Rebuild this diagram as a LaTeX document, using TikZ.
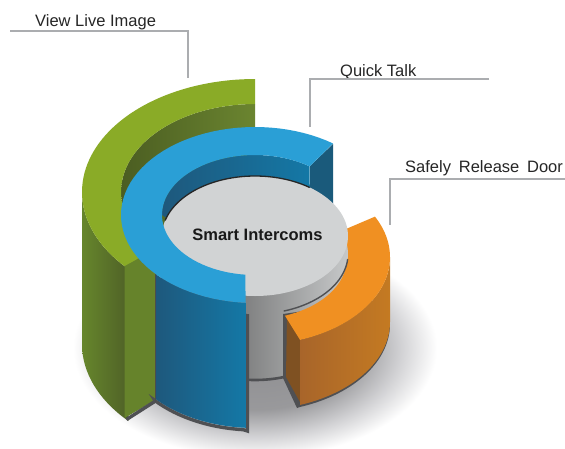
\documentclass[tikz,border=0pt]{standalone}
\usepackage{fontspec}
\setmainfont{Liberation Sans}
\newfontfamily\widesp[WordSpace=1.7]{Liberation Sans}
\definecolor{greentop}{HTML}{8AAB27}
\definecolor{greenface}{HTML}{66832B}
\definecolor{greenlight}{HTML}{66862C}
\definecolor{greendark}{HTML}{4F6127}
\definecolor{greeninner}{HTML}{6B8530}
\definecolor{bluetop}{HTML}{2A9FD6}
\definecolor{bluedark}{HTML}{1E587C}
\definecolor{bluemid}{HTML}{1478A6}
\definecolor{blueend}{HTML}{1A5A7B}
\definecolor{orangetop}{HTML}{F09022}
\definecolor{orangeL}{HTML}{A8652A}
\definecolor{orangeR}{HTML}{C47A22}
\definecolor{orangeface}{HTML}{7F5122}
\definecolor{disc}{HTML}{D1D3D4}
\definecolor{edgegrey}{HTML}{4F5053}
\definecolor{leadgrey}{HTML}{ABADB0}
\pgfdeclareradialshading{softshadow}{\pgfpoint{0bp}{0bp}}{rgb(0bp)=(.55,.55,.56);rgb(14bp)=(.6,.6,.61);rgb(20bp)=(.82,.82,.83);rgb(25bp)=(1,1,1);rgb(50bp)=(1,1,1)}
\tikzset{
  leader/.style={draw=leadgrey,line width=1.6pt},
  labeltext/.style={font=\fontsize{16.5}{18}\selectfont,text=black!85,inner sep=0pt,anchor=base west},
  edgeline/.style={draw=edgegrey,line width=3.4pt,line join=miter},
  arcs/.style={samples=60},
}
\begin{document}
\begin{tikzpicture}[x=1pt,y=-1pt]
\useasboundingbox (0,0) rectangle (565,448);
\fill[white] (0,0) rectangle (565,448);
% floor shadow
\shade[shading=softshadow] (255,348) ellipse [x radius=182pt,y radius=110pt];
% green segment
\shade[left color=greeninner!70!black,right color=greeninner]
  plot[arcs,domain=270:139] ({255+134*cos(\x)},{192+88*sin(\x)}) -- (255,215) -- cycle;
\shade[left color=greenlight,right color=greendark]
  plot[arcs,domain=180:137] ({255+173*cos(\x)},{192+113*sin(\x)}) -- plot[arcs,domain=137:180] ({255+173*cos(\x)},{344+113*sin(\x)}) -- cycle;
\fill[greenface] (124.5,265) -- (153,248) -- (157,248) -- (157,399) -- (124.5,418) -- cycle;
\fill[greentop] plot[arcs,domain=270:139] ({255+173*cos(\x)},{192+113*sin(\x)}) -- plot[arcs,domain=139:270] ({255+134*cos(\x)},{192+88*sin(\x)}) -- cycle;
% blue back walls
\shade[left color=bluedark,right color=bluemid]
  plot[arcs,domain=306:180] ({255+93*cos(\x)},{215+60*sin(\x)}) -- (200,240) -- (310,240) -- cycle;
\fill[blueend] (333,144) -- (310,166) -- (310,235) -- (333,235) -- cycle;
% grey cylinder
\shade[left color=black!72,right color=disc!95!black]
  plot[arcs,domain=0:180] ({255+93*cos(\x)},{236+60*sin(\x)}) -- plot[arcs,domain=180:0] ({255+93*cos(\x)},{320+60*sin(\x)}) -- cycle;
\draw[edgeline,line width=2.6pt] plot[arcs,domain=45:95] ({255+93*cos(\x)},{320+60*sin(\x)});
% dark base edge of the blue and green segments
\draw[edgeline] (126.5,419.5) -- (155.5,401) -- plot[arcs,domain=138:95] ({255+134*cos(\x)},{342+88*sin(\x)}) -- (247.5,431) -- (247.5,297);
% orange segment
\fill[edgegrey] (283,314) -- (283,378) -- (297,408) -- plot[arcs,domain=70.5:0] ({255+135*cos(\x)},{324+88*sin(\x)}) -- (380,300) -- cycle;
\fill[orangeface] (287,314) -- (300,340) -- (300,402) -- (286,377) -- cycle;
\shade[left color=orangeL,right color=orangeR]
  plot[arcs,domain=70.5:0] ({255+135*cos(\x)},{257+88*sin(\x)}) -- plot[arcs,domain=0:70.5] ({255+135*cos(\x)},{322+88*sin(\x)}) -- cycle;
\fill[orangetop] plot[arcs,domain=-27.3:70.5] ({255+135*cos(\x)},{257+88*sin(\x)}) -- plot[arcs,domain=71:-25] ({255+92*cos(\x)},{258+61*sin(\x)}) -- cycle;
% central disc
\shade[left color=black!72,right color=disc!95!black] (255,254) ellipse [x radius=93pt,y radius=60pt];
\draw[edgegrey,line width=1.4pt] plot[arcs,domain=5:72] ({255+93*cos(\x)},{254+60*sin(\x)});
\fill[disc] (255,236) ellipse [x radius=93pt,y radius=60pt];
\draw[black!85,line width=1.3pt] plot[arcs,domain=195:306] ({255+93*cos(\x)},{236+60*sin(\x)});
% blue front
\shade[left color=bluedark,right color=bluemid]
  plot[arcs,domain=138:94] ({255+134*cos(\x)},{215+88*sin(\x)}) -- plot[arcs,domain=94:138] ({255+134*cos(\x)},{340+88*sin(\x)}) -- cycle;
\draw[black!70,line width=1pt] (155.5,274) -- (155.5,402);
\fill[bluetop] plot[arcs,domain=305.6:94] ({255+134*cos(\x)},{215+88*sin(\x)}) -- plot[arcs,domain=96:306] ({255+93*cos(\x)},{215+60*sin(\x)}) -- cycle;
% labels
\node[labeltext] (live) at (35,26) {View Live Image};
\node[labeltext] (talk) at (340,76) {Quick Talk};
\node[labeltext,font=\fontsize{16.5}{18}\widesp] (door) at (405,172) {Safely Release Door};
\node[font=\fontsize{16.5}{18}\bfseries\selectfont,text=black!90,inner sep=0pt] (smart) at (257.5,235) {Smart Intercoms};
% leaders
\coordinate (liveA) at (10,31);
\coordinate (liveB) at (188,78);
\coordinate (talkA) at (489,79);
\coordinate (talkB) at (310,127);
\coordinate (doorA) at (565,179);
\coordinate (doorB) at (390,225);
\draw[leader] (liveA) -| (liveB);
\draw[leader] (talkA) -| (talkB);
\draw[leader] (doorA) -| (doorB);
\end{tikzpicture}
\end{document}
